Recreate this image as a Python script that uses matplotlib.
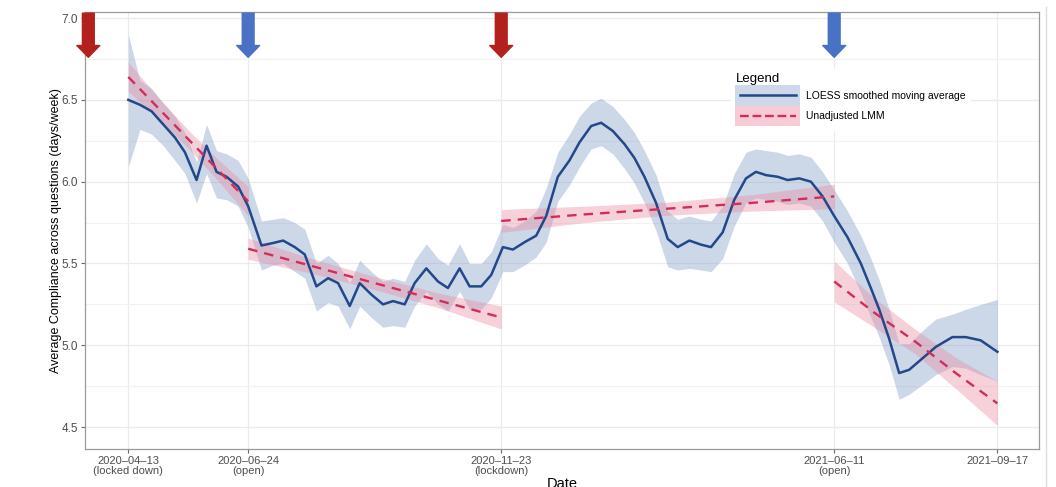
import pandas as pd
import matplotlib
matplotlib.use("Agg")
import matplotlib.pyplot as plt
from matplotlib.patches import Rectangle
from matplotlib.lines import Line2D

# ---- data ----
start_date = pd.Timestamp("2020-04-13")

# LOESS smoothed moving average: days since 2020-04-13, mean, lower, upper
loess_days = [0, 7, 14, 21, 28, 34, 41, 47, 53, 59, 66, 72, 80, 87, 93, 100, 106,
              113, 120, 126, 133, 139, 146, 153, 159, 166, 172, 179, 186, 192, 199,
              205, 212, 218, 225, 231, 238, 245, 251, 258, 265, 271, 278, 284, 291,
              298, 304, 310, 317, 324, 330, 337, 344, 350, 357, 364, 371, 377, 383,
              390, 396, 403, 410, 417, 424, 432, 440, 446, 451, 457, 463, 469, 477,
              485, 495, 503, 512, 522]
loess_mean = [6.50, 6.47, 6.43, 6.35, 6.27, 6.18, 6.01, 6.22, 6.06, 6.03, 5.97, 5.85,
              5.61, 5.625, 5.64, 5.60, 5.555, 5.36, 5.41, 5.38, 5.24, 5.38, 5.31, 5.25,
              5.27, 5.25, 5.38, 5.47, 5.39, 5.35, 5.47, 5.36, 5.36, 5.43, 5.60, 5.585,
              5.63, 5.67, 5.79, 6.03, 6.13, 6.24, 6.34, 6.36, 6.31, 6.23, 6.145, 6.03,
              5.87, 5.65, 5.60, 5.64, 5.615, 5.60, 5.69, 5.89, 6.02, 6.06, 6.04, 6.03,
              6.01, 6.02, 6.00, 5.91, 5.79, 5.66, 5.50, 5.35, 5.22, 5.04, 4.83, 4.85,
              4.92, 4.99, 5.05, 5.05, 5.03, 4.96]
loess_low = [6.09, 6.32, 6.29, 6.22, 6.13, 6.05, 5.87, 6.05, 5.90, 5.89, 5.85, 5.72,
             5.46, 5.49, 5.50, 5.45, 5.41, 5.21, 5.26, 5.24, 5.10, 5.24, 5.17, 5.11,
             5.12, 5.11, 5.24, 5.33, 5.25, 5.21, 5.33, 5.22, 5.22, 5.29, 5.45, 5.45,
             5.49, 5.54, 5.63, 5.88, 5.98, 6.09, 6.20, 6.22, 6.17, 6.08, 5.99, 5.87,
             5.70, 5.48, 5.46, 5.47, 5.46, 5.45, 5.53, 5.73, 5.87, 5.90, 5.89, 5.88,
             5.86, 5.87, 5.85, 5.76, 5.63, 5.50, 5.32, 5.17, 5.05, 4.88, 4.67, 4.70,
             4.76, 4.82, 4.87, 4.86, 4.82, 4.78]
loess_up = [6.90, 6.62, 6.57, 6.48, 6.40, 6.30, 6.12, 6.35, 6.19, 6.17, 6.13, 6.02,
            5.76, 5.77, 5.78, 5.75, 5.71, 5.50, 5.55, 5.50, 5.38, 5.52, 5.45, 5.39,
            5.41, 5.39, 5.52, 5.62, 5.53, 5.49, 5.62, 5.50, 5.50, 5.57, 5.74, 5.72,
            5.76, 5.82, 5.96, 6.18, 6.29, 6.40, 6.48, 6.51, 6.46, 6.38, 6.30, 6.19,
            6.04, 5.82, 5.77, 5.79, 5.77, 5.76, 5.85, 6.05, 6.18, 6.20, 6.19, 6.18,
            6.16, 6.17, 6.15, 6.06, 5.95, 5.82, 5.67, 5.53, 5.40, 5.22, 5.01, 5.01,
            5.09, 5.16, 5.19, 5.22, 5.25, 5.28]

# Unadjusted LMM, one piece per period: days, fit, half width of the band
lmm_days = [[0, 18, 36, 54, 72],
            [72, 110, 148, 186, 224],
            [224, 274, 324, 374, 424],
            [424, 448, 473, 497, 522]]
lmm_fit = [[6.64, 6.45, 6.26, 6.07, 5.88],
           [5.59, 5.485, 5.38, 5.275, 5.17],
           [5.76, 5.80, 5.835, 5.87, 5.91],
           [5.39, 5.20, 5.02, 4.83, 4.645]]
lmm_hw = [[0.09, 0.065, 0.055, 0.065, 0.09],
          [0.065, 0.045, 0.04, 0.045, 0.07],
          [0.07, 0.05, 0.04, 0.05, 0.075],
          [0.125, 0.09, 0.075, 0.095, 0.135]]

tick_dates = ["2020-04-13", "2020-06-24", "2020-11-23", "2021-06-11", "2021-09-17"]
tick_notes = ["(locked down)", "(open)", "(lockdown)", "(open)", ""]

arrow_dates = ["2020-03-20", "2020-06-24", "2020-11-23", "2021-06-11"]
arrow_colors = ["#b2211c", "#4a72c4", "#b2211c", "#4a72c4"]

# ---- plot ----
plt.rcParams["font.family"] = ["Liberation Sans", "DejaVu Sans"]

fig = plt.figure(figsize=(10.56, 4.87), dpi=100)
ax = fig.add_axes([85 / 1056, 1 - 449 / 487, 954 / 1056, 437 / 487])

line_col = "#23488a"
band_col = "#7b97c4"
lmm_col = "#d12d5c"
lmm_band = "#ec8ca4"

x = start_date + pd.to_timedelta(loess_days, unit="D")
ax.fill_between(x, loess_low, loess_up, color=band_col, alpha=0.38, lw=0, zorder=2)

for d, f, h in zip(lmm_days, lmm_fit, lmm_hw):
    xd = start_date + pd.to_timedelta(d, unit="D")
    lo = [a - b for a, b in zip(f, h)]
    hi = [a + b for a, b in zip(f, h)]
    ax.fill_between(xd, lo, hi, color=lmm_band, alpha=0.4, lw=0, zorder=2)

loess_line, = ax.plot(x, loess_mean, color=line_col, lw=1.8, zorder=3)
lmm_lines = []
for d, f in zip(lmm_days, lmm_fit):
    xd = start_date + pd.to_timedelta(d, unit="D")
    l, = ax.plot(xd, f, color=lmm_col, lw=1.7, dashes=(4, 3), zorder=4)
    lmm_lines.append(l)

# arrows marking policy changes
for d, c in zip(arrow_dates, arrow_colors):
    xd = pd.Timestamp(d)
    ax.annotate("", xy=(xd, 6.76), xytext=(xd, 7.03),
                arrowprops=dict(arrowstyle="simple,head_length=0.85,head_width=1.65,tail_width=0.85",
                                color=c, mutation_scale=10, shrinkA=0, shrinkB=0),
                zorder=5, annotation_clip=False)

# axes
ax.set_xlim(start_date - pd.Timedelta(days=26), start_date + pd.Timedelta(days=547))
ax.set_ylim(4.366, 7.037)
ax.set_yticks([4.5, 5.0, 5.5, 6.0, 6.5, 7.0])
ax.set_yticks([4.75, 5.25, 5.75, 6.25, 6.75], minor=True)
ax.tick_params(axis="y", which="minor", length=0)
xt = [pd.Timestamp(t) for t in tick_dates]
ax.set_xticks(xt)
ax.set_xticklabels([t.replace("-", "\u2013") + ("\n" + n if n else "") for t, n in zip(tick_dates, tick_notes)],
                   fontsize=8, color="#4d4d4d", linespacing=1.0)
ax.tick_params(axis="y", labelsize=8.5, labelcolor="#4d4d4d")
ax.tick_params(which="major", length=3, color="#666666", width=0.8, pad=2)

ax.grid(True, which="major", color="#ebebeb", lw=0.9, zorder=0)
ax.grid(True, which="minor", axis="y", color="#f2f2f2", lw=0.8, zorder=0)
ax.set_axisbelow(True)
for s in ax.spines.values():
    s.set_color("#9a9a9a")
    s.set_linewidth(0.9)

ax.set_ylabel("Average Compliance across questions (days/week)", fontsize=9, labelpad=0)
ax.set_xlabel("Date", fontsize=10.5, labelpad=1)


class KeyHandler:
    """legend key: shaded box with the line across it"""
    def __init__(self, fill):
        self.fill = fill

    def legend_artist(self, legend, orig_handle, fontsize, handlebox):
        x0, y0 = handlebox.xdescent, handlebox.ydescent
        w, h = handlebox.width, handlebox.height
        rect = Rectangle((-x0, -y0), w, h, facecolor=self.fill, lw=0,
                         transform=handlebox.get_transform())
        ln = Line2D([-x0 + 3, -x0 + w - 3], [-y0 + h / 2] * 2, color=orig_handle.get_color(),
                    lw=orig_handle.get_linewidth(), linestyle=orig_handle.get_linestyle(),
                    transform=handlebox.get_transform())
        handlebox.add_artist(rect)
        handlebox.add_artist(ln)
        return rect


leg = ax.legend([loess_line, lmm_lines[0]], ["LOESS smoothed moving average", "Unadjusted LMM"],
                handler_map={loess_line: KeyHandler("#cfd8e8"), lmm_lines[0]: KeyHandler("#f7cbd6")},
                title="Legend", loc="upper left", bbox_to_anchor=(0.672, 0.881),
                fontsize=7.5, title_fontsize=9.5, frameon=True, framealpha=1,
                edgecolor="white", fancybox=False, handlelength=6.2, handleheight=2.6,
                labelspacing=0.0, handletextpad=0.6, borderpad=0.4, alignment="left")
leg.set_zorder(6)

# faint border at the right side of the picture
fig.add_artist(Line2D([1046 / 1056, 1046 / 1056], [0, 0.985], color="#dddddd", lw=1.0))

fig.savefig("out.png", dpi=100)
